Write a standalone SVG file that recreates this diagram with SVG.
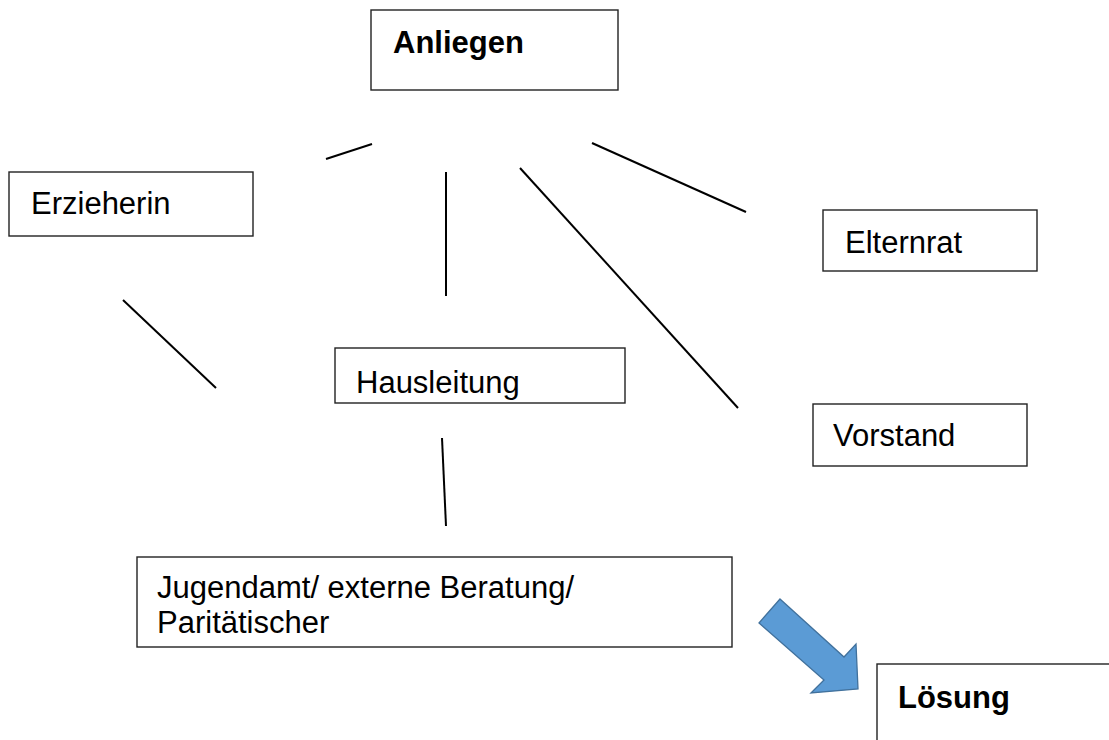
<svg xmlns="http://www.w3.org/2000/svg" width="1109" height="740" viewBox="0 0 1109 740">
<style>
.box{fill:#fff;stroke:#222;stroke-width:1.4}
.t{font-family:"Liberation Sans",Arial,sans-serif;font-size:31px;fill:#000}
.b{font-weight:bold}
.c line{stroke:#000;stroke-width:2;stroke-linecap:butt}
</style>
<rect width="1109" height="740" fill="#fff"/>
<g class="c" id="connectors">
<line x1="326" y1="159" x2="372" y2="144"/>
<line x1="446" y1="172" x2="446" y2="296"/>
<line x1="520" y1="168" x2="738" y2="408"/>
<line x1="592" y1="143" x2="746" y2="212"/>
<line x1="123" y1="300" x2="216" y2="388"/>
<line x1="442" y1="438" x2="446" y2="526"/>
<polygon points="780,599 844,657 856,644 858,689 811,693 824,680 759,623" fill="#5B9BD5" stroke="#41719C" stroke-width="1.3" stroke-linejoin="miter"/>
</g>
<g id="anliegen"><rect class="box" x="371" y="10" width="247" height="80"/><text class="t b" x="393" y="53">Anliegen</text></g>
<g id="erzieherin"><rect class="box" x="9" y="172" width="244" height="64"/><text class="t" x="31" y="214">Erzieherin</text></g>
<g id="elternrat"><rect class="box" x="823" y="210" width="214" height="61"/><text class="t" x="845" y="253">Elternrat</text></g>
<g id="hausleitung"><rect class="box" x="335" y="348" width="290" height="55"/><text class="t" x="356" y="393">Hausleitung</text></g>
<g id="vorstand"><rect class="box" x="813" y="404" width="214" height="62"/><text class="t" x="833" y="446">Vorstand</text></g>
<g id="jugendamt"><rect class="box" x="137" y="557" width="595" height="90"/><text class="t" x="157" y="598">Jugendamt/ externe Beratung/</text><text class="t" x="157" y="633">Paritätischer</text></g>
<g id="loesung"><rect class="box" x="877" y="664" width="240" height="90"/><text class="t b" x="898" y="708">Lösung</text></g>
</svg>
